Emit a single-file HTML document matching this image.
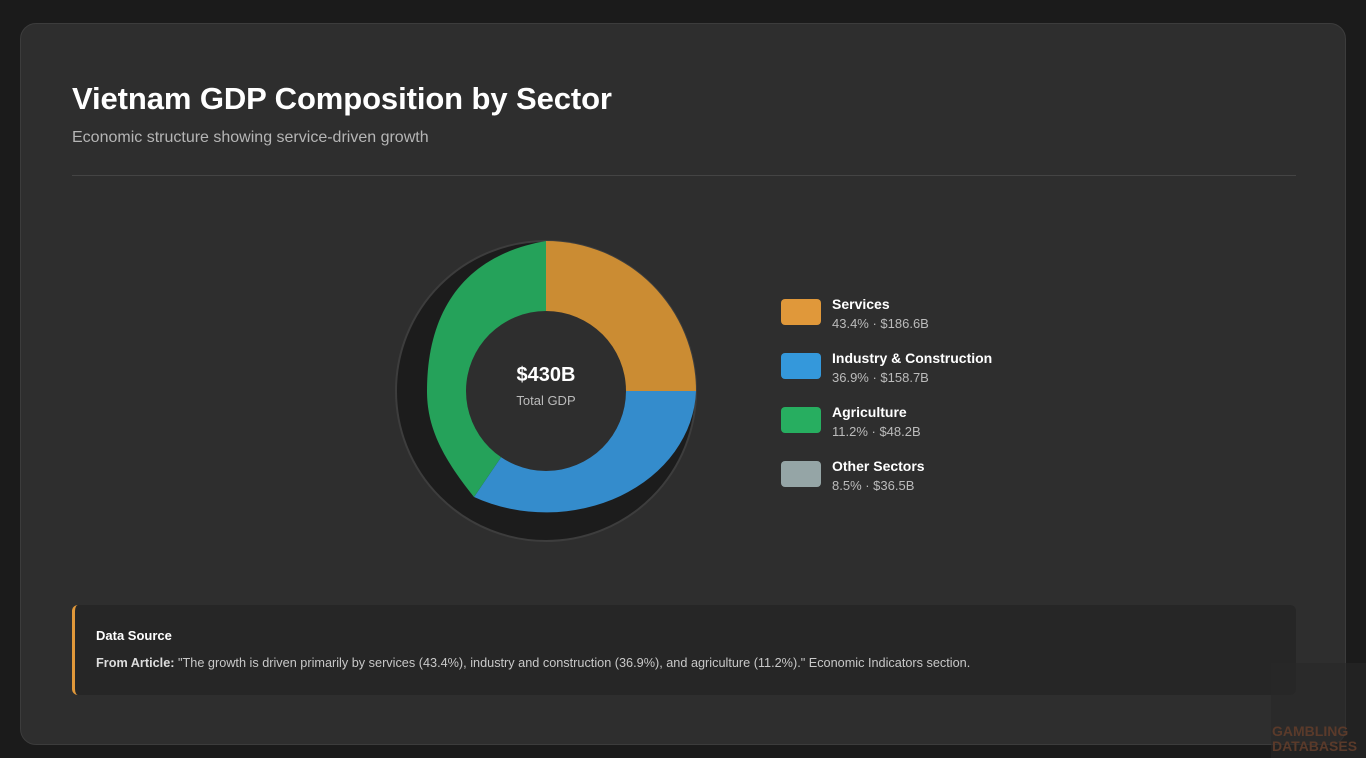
<!DOCTYPE html>
<html><head><meta charset="utf-8"><style>
html,body{margin:0;padding:0;width:1366px;height:758px;background:#1b1b1b;font-family:"Liberation Sans",sans-serif;overflow:hidden}
.card{position:absolute;left:20px;top:23px;width:1324px;height:720px;background:#2e2e2e;border:1px solid #3c3c3c;border-radius:16px}
h1{position:absolute;left:51px;top:57px;margin:0;font-size:31px;font-weight:bold;color:#fff;letter-spacing:-0.1px}
.sub{position:absolute;left:51px;top:105px;font-size:16px;color:#b5b5b5}
.hr{position:absolute;left:51px;top:151px;width:1224px;height:1px;background:#444}
.sw{position:absolute;left:0;width:40px;height:26px;border-radius:4px}
.lt{position:absolute;left:51px;font-size:14px;color:#fff;font-weight:bold;white-space:nowrap}
.lv{position:absolute;left:51px;font-size:13px;color:#bbb;white-space:nowrap}
.src{position:absolute;left:51px;top:581px;width:1221px;height:90px;background:#262626;border-left:3px solid #e0983a;border-radius:6px}
.src .t{position:absolute;left:21px;top:23px;font-size:13px;font-weight:bold;color:#fff}
.src .d{position:absolute;left:21px;top:51px;font-size:12.7px;color:#c8c8c8;white-space:nowrap}
</style></head><body>
<div class="card">
<h1>Vietnam GDP Composition by Sector</h1>
<div class="sub">Economic structure showing service-driven growth</div>
<div class="hr"></div>
<div class="src"><div class="t">Data Source</div><div class="d"><b style="color:#ddd">From Article:</b> "The growth is driven primarily by services (43.4%), industry and construction (36.9%), and agriculture (11.2%)." Economic Indicators section.</div></div>
</div>
<svg style="position:absolute;left:0;top:0" width="1366" height="758">
<circle cx="546" cy="391" r="150" fill="#1c1c1c" stroke="#3d3d3d" stroke-width="2"/>
<path d="M546,391 L546,241 A150,150 0 0 1 696,391 Z" fill="#cb8c33"/>
<path d="M546,391 L696,391 A150,125 0 0 1 474,497 Z" fill="#348ccc"/>
<path d="M546,391 L474,497 C440,455 427,425 427,391 C427,310 465,255 546,241 Z" fill="#25a25a"/>
<circle cx="546" cy="391" r="80" fill="#2e2e2e"/>
<text x="546" y="381" text-anchor="middle" font-family="Liberation Sans" font-weight="bold" font-size="20" fill="#fff">$430B</text>
<text x="546" y="405" text-anchor="middle" font-family="Liberation Sans" font-size="13" fill="#bbb">Total GDP</text>
</svg>
<div style="position:absolute;left:781px;top:299px">
<div class="sw" style="top:0;background:#e0983a"></div><div class="lt" style="top:-3px">Services</div><div class="lv" style="top:17px">43.4% · $186.6B</div>
<div class="sw" style="top:54px;background:#3498db"></div><div class="lt" style="top:51px">Industry &amp; Construction</div><div class="lv" style="top:71px">36.9% · $158.7B</div>
<div class="sw" style="top:108px;background:#27ae60"></div><div class="lt" style="top:105px">Agriculture</div><div class="lv" style="top:125px">11.2% · $48.2B</div>
<div class="sw" style="top:162px;background:#95a5a6"></div><div class="lt" style="top:159px">Other Sectors</div><div class="lv" style="top:179px">8.5% · $36.5B</div>
</div>
<div style="position:absolute;left:1271px;top:663px;width:95px;height:95px;background:rgba(40,40,40,0.6)"></div>
<div style="position:absolute;left:1272px;top:724px;font-size:14px;font-weight:bold;color:#5a3a2a;line-height:15px">GAMBLING<br>DATABASES</div>
</body></html>
